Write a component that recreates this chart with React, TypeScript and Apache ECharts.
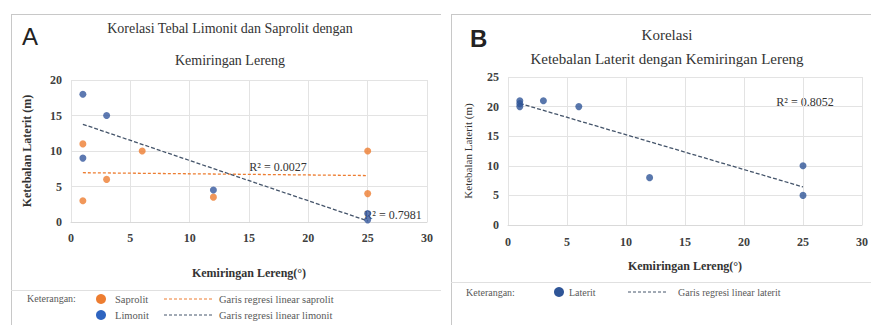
import React, { useEffect, useRef } from "react";
import * as echarts from "echarts";

const xSaprolit = [1, 1, 3, 6, 12, 25, 25];
const ySaprolit = [11, 3, 6, 10, 3.5, 10, 4];
const xLimonit = [1, 1, 3, 12, 25, 25];
const yLimonit = [18, 9, 15, 4.5, 1.2, 0.3];
const xLaterit = [1, 1, 1, 3, 6, 12, 25, 25];
const yLaterit = [21, 20.5, 20, 21, 20, 8, 10, 5];

const r2Labels = ["R² = 0.0027", "R² = 0.7981", "R² = 0.8052"];

const ORANGE = "#ED7D31";
const BLUE_A = "#34589e";
const BLUE_B = "#2F5597";
const SERIF = "Liberation Serif";
const SANS = "Liberation Sans";

function pairs(xs: number[], ys: number[]) {
  return xs.map((x, i) => [x, ys[i]]);
}

function linfit(xs: number[], ys: number[]) {
  const n = xs.length;
  const mx = xs.reduce((a, b) => a + b, 0) / n;
  const my = ys.reduce((a, b) => a + b, 0) / n;
  let sxy = 0;
  let sxx = 0;
  for (let i = 0; i < n; i++) {
    sxy += (xs[i] - mx) * (ys[i] - my);
    sxx += (xs[i] - mx) * (xs[i] - mx);
  }
  const b = sxy / sxx;
  const a = my - b * mx;
  const x0 = Math.min(...xs);
  const x1 = Math.max(...xs);
  return [
    [x0, a + b * x0],
    [x1, a + b * x1],
  ];
}

function xAxisCfg(gridIndex: number, name: string, nameSize: number, labelSize: number, gap: number, margin: number) {
  return {
    type: "value",
    gridIndex,
    min: 0,
    max: 30,
    interval: 5,
    name,
    nameLocation: "middle",
    nameGap: gap,
    nameTextStyle: { fontFamily: SERIF, fontSize: nameSize, fontWeight: "bold", color: "#333" },
    axisLine: { show: true, lineStyle: { color: "#d9d9d9" } },
    axisTick: { show: false },
    axisLabel: { fontFamily: SERIF, fontSize: labelSize, fontWeight: "bold", color: "#404040", margin },
    splitLine: { show: true, lineStyle: { color: "#e3e3e3", width: 1 } },
  };
}

function yAxisCfg(gridIndex: number, max: number, name: string, nameSize: number, nameWeight: string, labelSize: number, gap: number) {
  return {
    type: "value",
    gridIndex,
    min: 0,
    max,
    interval: 5,
    name,
    nameLocation: "middle",
    nameGap: gap,
    nameRotate: 90,
    nameTextStyle: { fontFamily: SERIF, fontSize: nameSize, fontWeight: nameWeight, color: "#333" },
    axisLine: { show: false },
    axisTick: { show: false },
    axisLabel: { fontFamily: SERIF, fontSize: labelSize, fontWeight: "bold", color: "#404040", margin: 9 },
    splitLine: { show: true, lineStyle: { color: "#e3e3e3", width: 1 } },
  };
}

function txt(x: number, y: number, text: string, size: number, opts: any = {}) {
  return {
    type: "text",
    x,
    y,
    style: {
      text,
      fontFamily: opts.family || SERIF,
      fontSize: size,
      fontWeight: opts.weight || "normal",
      fill: opts.color || "#333",
      align: opts.align || "left",
      verticalAlign: "middle",
    },
  };
}

function hline(x1: number, x2: number, y: number, color: string) {
  return { type: "line", shape: { x1, y1: y, x2, y2: y }, style: { stroke: color, lineWidth: 1 } };
}
function vline(x: number, y1: number, y2: number, color: string) {
  return { type: "line", shape: { x1: x, y1, x2: x, y2 }, style: { stroke: color, lineWidth: 1 } };
}
function dash(x1: number, x2: number, y: number, color: string) {
  return { type: "line", shape: { x1, y1: y, x2, y2: y }, style: { stroke: color, lineWidth: 1, lineDash: [3, 2] } };
}
function dot(x: number, y: number, color: string) {
  return { type: "circle", shape: { cx: x, cy: y, r: 5 }, style: { fill: color } };
}

export default function App() {
  const ref = useRef<HTMLDivElement>(null);

  useEffect(() => {
    if (!ref.current) return;
    const chart = echarts.init(ref.current, null, { renderer: "svg" });
    const border = "#c8c8c8";
    const legendColor = "#595959";
    const option: any = {
      animation: false,
      backgroundColor: "#ffffff",
      textStyle: { fontFamily: SERIF },
      grid: [
        { left: 71, top: 80, width: 356, height: 142 },
        { left: 508, top: 77, width: 357, height: 148 },
      ],
      xAxis: [
        xAxisCfg(0, "Kemiringan Lereng(°)", 12, 12, 45, 10),
        xAxisCfg(1, "Kemiringan Lereng(°)", 12, 12, 35, 11),
      ],
      yAxis: [
        yAxisCfg(0, 20, "Ketebalan Laterit (m)", 12, "bold", 12, 38),
        yAxisCfg(1, 25, "Ketebalan Laterit (m)", 11, "normal", 12, 35),
      ],
      series: [
        {
          type: "line",
          xAxisIndex: 0,
          yAxisIndex: 0,
          data: linfit(xSaprolit, ySaprolit),
          symbol: "none",
          lineStyle: { color: ORANGE, width: 1.3, type: [3, 2] },
          z: 3,
        },
        {
          type: "line",
          xAxisIndex: 0,
          yAxisIndex: 0,
          data: linfit(xLimonit, yLimonit),
          symbol: "none",
          lineStyle: { color: "#44546A", width: 1.3, type: [4, 2] },
          z: 3,
        },
        {
          type: "scatter",
          xAxisIndex: 0,
          yAxisIndex: 0,
          data: pairs(xSaprolit, ySaprolit),
          symbolSize: 7,
          itemStyle: { color: ORANGE },
          z: 4,
        },
        {
          type: "scatter",
          xAxisIndex: 0,
          yAxisIndex: 0,
          data: pairs(xLimonit, yLimonit),
          symbolSize: 7,
          itemStyle: { color: BLUE_A },
          z: 4,
        },
        {
          type: "line",
          xAxisIndex: 1,
          yAxisIndex: 1,
          data: linfit(xLaterit, yLaterit),
          symbol: "none",
          lineStyle: { color: "#44546A", width: 1.3, type: [4, 2] },
          z: 3,
        },
        {
          type: "scatter",
          xAxisIndex: 1,
          yAxisIndex: 1,
          data: pairs(xLaterit, yLaterit),
          symbolSize: 7,
          itemStyle: { color: BLUE_B },
          z: 4,
        },
      ],
      graphic: [
        vline(11.5, 14, 325, border),
        hline(11, 441, 14.5, border),
        vline(451.5, 14, 325, border),
        hline(451, 871, 14.5, border),
        hline(11, 441, 290.5, "#e0e0e0"),
        hline(451, 871, 282.5, "#e0e0e0"),
        txt(22, 36, "A", 24, { family: SANS, color: "#222" }),
        txt(470, 38, "B", 24, { family: SANS, weight: "bold", color: "#222" }),
        txt(230, 28, "Korelasi Tebal Limonit dan Saprolit dengan", 14, { align: "center", color: "#333" }),
        txt(230, 60, "Kemiringan Lereng", 14, { align: "center", color: "#333" }),
        txt(667, 35, "Korelasi", 15, { align: "center", color: "#333" }),
        txt(667, 59, "Ketebalan Laterit dengan Kemiringan Lereng", 15, { align: "center", color: "#333" }),
        txt(278, 167, r2Labels[0], 12, { align: "center", color: "#333" }),
        txt(393, 215, r2Labels[1], 12, { align: "center", color: "#333" }),
        txt(805, 102, r2Labels[2], 12, { align: "center", color: "#333" }),
        txt(27, 298, "Keterangan:", 10, { color: legendColor }),
        dot(101, 299, ORANGE),
        txt(115, 299, "Saprolit", 10.5, { color: legendColor }),
        dash(164, 214, 299, ORANGE),
        txt(219, 299, "Garis regresi linear saprolit", 10.5, { color: legendColor }),
        dot(101, 315, "#2E64C0"),
        txt(115, 315, "Limonit", 10.5, { color: legendColor }),
        dash(164, 214, 315, "#44546A"),
        txt(219, 315, "Garis regresi linear limonit", 10.5, { color: legendColor }),
        txt(466, 292, "Keterangan:", 10, { color: legendColor }),
        dot(559, 292, BLUE_B),
        txt(569, 292, "Laterit", 10, { color: legendColor }),
        dash(628, 668, 292, "#44546A"),
        txt(678, 292, "Garis regresi linear laterit", 10, { color: legendColor }),
      ],
    };
    chart.setOption(option);
    return () => chart.dispose();
  }, []);

  return (
    <div
      ref={ref}
      style={{ position: "fixed", left: 0, top: 0, width: 871, height: 325, background: "#fff" }}
    />
  );
}
